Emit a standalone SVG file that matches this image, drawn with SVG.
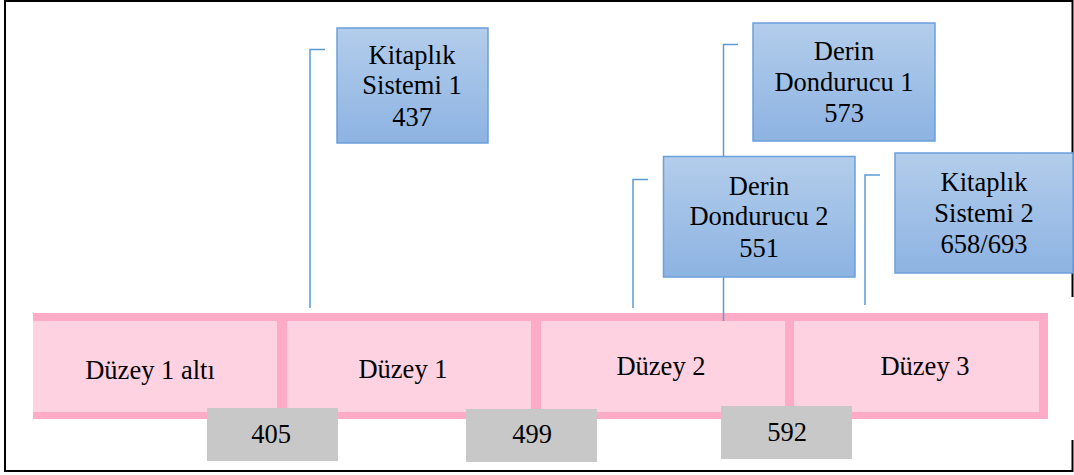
<svg xmlns="http://www.w3.org/2000/svg" width="1074" height="475" viewBox="0 0 1074 475">
  <defs>
    <linearGradient id="blueGrad" x1="0" y1="0" x2="0" y2="1">
      <stop offset="0" stop-color="#B3CDEB"/>
      <stop offset="1" stop-color="#8DB3E2"/>
    </linearGradient>
    <style>
      .t { font-family: "Liberation Serif", "Times New Roman", serif; font-size: 26.5px; fill: #000; text-anchor: middle; }
      .box { fill: url(#blueGrad); stroke: #6C9FDA; stroke-width: 1.5; }
      .conn { fill: none; stroke: #5B9BD5; stroke-width: 1.5; }
      .cell { fill: #FED2E0; }
      .gray { fill: #C8C8C8; }
      .frame { stroke: #000; stroke-width: 2; fill: none; }
    </style>
  </defs>
  <rect x="0" y="0" width="1074" height="475" fill="#fff"/>
  <!-- frame -->
  <g id="frame">
    <line class="frame" x1="5" y1="1" x2="1073" y2="1"/>
    <line class="frame" x1="5" y1="0" x2="5" y2="472"/>
    <line class="frame" x1="4" y1="471" x2="1073" y2="471"/>
    <line class="frame" x1="1072.5" y1="0" x2="1072.5" y2="297"/>
    <line class="frame" x1="1072.5" y1="440" x2="1072.5" y2="472"/>
  </g>
  <!-- level bar -->
  <g id="levelbar">
    <rect x="33" y="313" width="1015" height="106" fill="#FDABC7"/>
  </g>
  <!-- connectors -->
  <g id="connectors">
    <polyline class="conn" points="325,49.5 310,49.5 310,308"/>
    <polyline class="conn" points="738,44.5 723.5,44.5 723.5,321"/>
    <polyline class="conn" points="648,179.5 633,179.5 633,308"/>
    <polyline class="conn" points="880,175 865,175 865,305"/>
  </g>
  <g id="level0">
    <rect class="cell" x="33" y="321" width="244" height="91"/>
    <text class="t" x="150" y="379">Düzey 1 altı</text>
  </g>
  <g id="level1">
    <rect class="cell" x="287" y="321" width="244" height="91"/>
    <text class="t" x="403" y="378">Düzey 1</text>
  </g>
  <g id="level2">
    <rect class="cell" x="541" y="321" width="244" height="91"/>
    <text class="t" x="661" y="375">Düzey 2</text>
  </g>
  <g id="level3">
    <rect class="cell" x="794" y="321" width="245" height="91"/>
    <text class="t" x="925" y="375">Düzey 3</text>
  </g>
  <!-- gray value boxes -->
  <g id="v405">
    <rect class="gray" x="207" y="408" width="131" height="53"/>
    <text class="t" x="271" y="443">405</text>
  </g>
  <g id="v499">
    <rect class="gray" x="466" y="409" width="131" height="53"/>
    <text class="t" x="532" y="443">499</text>
  </g>
  <g id="v592">
    <rect class="gray" x="721" y="406" width="131" height="53"/>
    <text class="t" x="787" y="441">592</text>
  </g>
  <!-- blue nodes -->
  <g id="kitaplik1">
    <rect class="box" x="337" y="28" width="151" height="115"/>
    <text class="t" x="412" y="64">Kitaplık</text>
    <text class="t" x="412" y="94">Sistemi 1</text>
    <text class="t" x="412" y="126">437</text>
  </g>
  <g id="derin1">
    <rect class="box" x="753" y="23" width="182" height="118"/>
    <text class="t" x="844" y="60">Derin</text>
    <text class="t" x="844" y="91">Dondurucu 1</text>
    <text class="t" x="844" y="122">573</text>
  </g>
  <g id="derin2">
    <rect class="box" x="663.5" y="156.5" width="191.5" height="120.5"/>
    <text class="t" x="759" y="195">Derin</text>
    <text class="t" x="759" y="225">Dondurucu 2</text>
    <text class="t" x="759" y="257">551</text>
  </g>
  <g id="kitaplik2">
    <rect class="box" x="895" y="153" width="178" height="120"/>
    <text class="t" x="984" y="191">Kitaplık</text>
    <text class="t" x="984" y="222">Sistemi 2</text>
    <text class="t" x="984" y="253">658/693</text>
  </g>
</svg>
